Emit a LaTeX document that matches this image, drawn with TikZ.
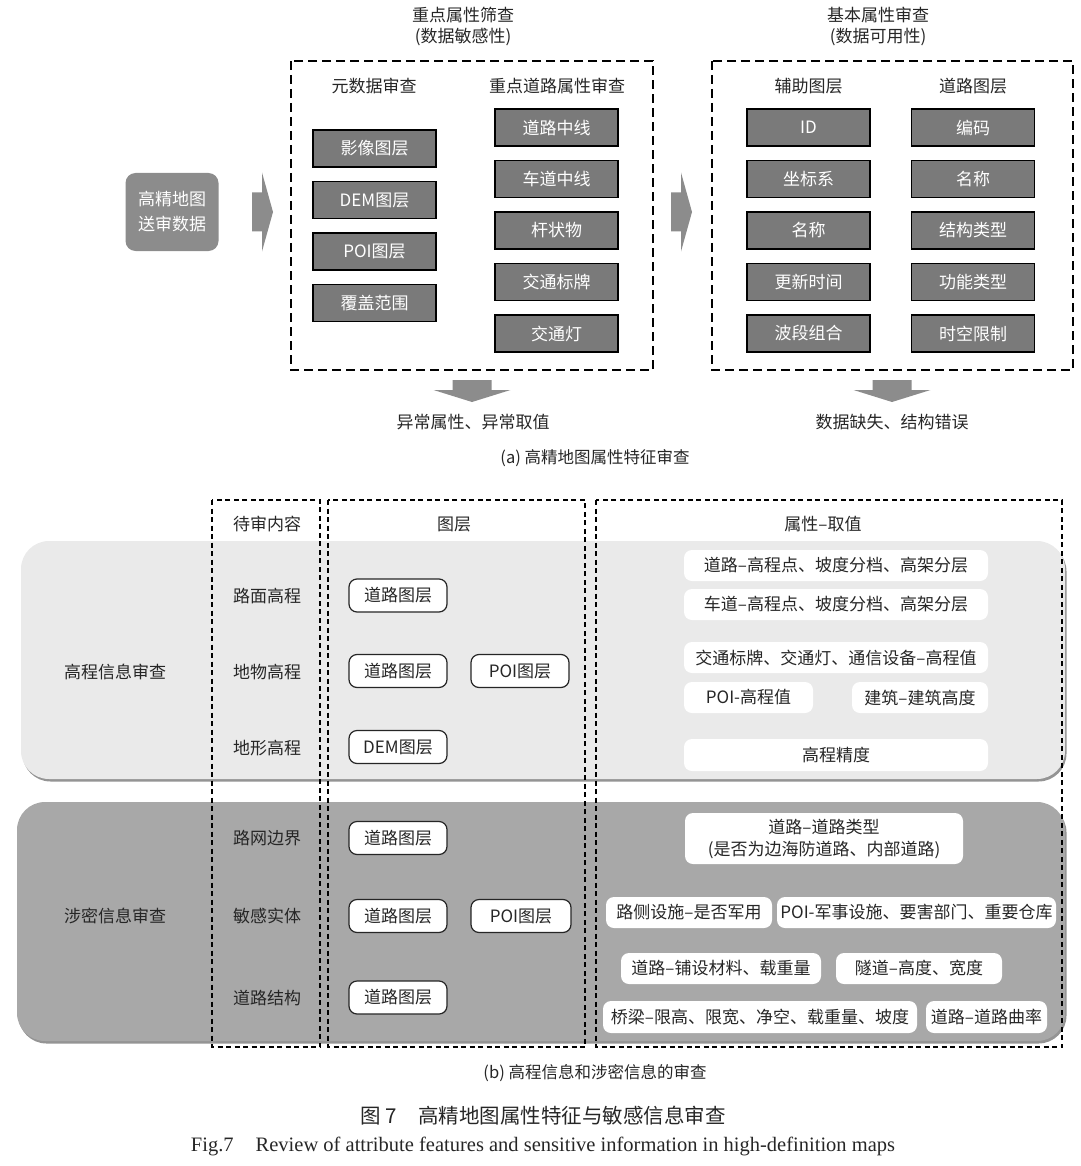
\documentclass[tikz,border=0pt]{standalone}
\usepackage{fontspec}
\setmainfont{Noto Sans CJK SC}
\newfontfamily\latinserif{Liberation Serif}
\usepackage{tikz}
\usetikzlibrary{
  positioning,
  shadows
}
\definecolor{boxgray}{RGB}{122,122,122}
\definecolor{srcgray}{RGB}{140,140,140}
\definecolor{bandlight}{RGB}{234,234,234}
\definecolor{banddark}{RGB}{168,168,168}
\tikzset{
  attrbox/.style={draw=black, line width=1.5pt, fill=boxgray, text=white,
    minimum width=123pt, minimum height=37pt, inner sep=0pt,
    font=\fontsize{17}{20}\selectfont},
  layerbox/.style={draw=black!85, line width=1.2pt, fill=white, rounded corners=8pt,
    minimum width=98pt, minimum height=33pt, inner sep=0pt,
    font=\fontsize{17}{20}\selectfont},
  valbox/.style={fill=white, rounded corners=8pt, minimum height=31pt,
    inner sep=0pt, align=center, font=\fontsize{17}{22}\selectfont},
  lbl/.style={inner sep=0pt, align=center, font=\fontsize{17}{20}\selectfont},
  bigdash/.style={line width=2pt, dash pattern=on 9pt off 5pt},
  smalldash/.style={line width=1.3pt, dash pattern=on 5pt off 3.5pt},
  band/.style={rounded corners=28pt,
    drop shadow={shadow xshift=1.5pt, shadow yshift=-2.5pt, fill=black!60, opacity=0.7}},
  pics/rblock/.style={code={
    \fill[srcgray] (0,-19.5) -- (10,-19.5) -- (10,-39.5) -- (21,0)
      -- (10,39.5) -- (10,19.5) -- (0,19.5) -- cycle;}},
  pics/dblock/.style={code={
    \fill[srcgray] (-19.5,0) -- (-19.5,10) -- (-38.5,10) -- (0,22)
      -- (38.5,10) -- (19.5,10) -- (19.5,0) -- cycle;}},
}

\begin{document}
\begin{tikzpicture}[x=1pt, y=-1pt, every node/.style={text=black!85}, node distance=13pt]
  \useasboundingbox (0,0) rectangle (1080,1166);

  % (a) attribute screening
  \node[lbl] (keyt) at (463,15) {重点属性筛查};
  \node[lbl] (keys) at (463,37) {(数据敏感性)};
  \node[lbl] (baset) at (878,15) {基本属性审查};
  \node[lbl] (bases) at (878,37) {(数据可用性)};

  \node[fill=srcgray, rounded corners=10pt, minimum width=93pt, minimum height=78pt,
        inner sep=0pt, text=white, align=center, font=\fontsize{17}{25}\selectfont]
        (src) at (172,212) {高精地图\\送审数据};
  \pic at (252,212) {rblock};
  \pic at (671,212) {rblock};

  \draw[bigdash] (291,61) rectangle (653,370);
  \node[lbl] (meta) at (374,86) {元数据审查};
  \node[lbl] (keyroad) at (557,86) {重点道路属性审查};
  \node[attrbox] (img) at (374.5,148.5) {影像图层};
  \node[attrbox, below=of img] (dem) {DEM图层};
  \node[attrbox, below=of dem] (poi) {POI图层};
  \node[attrbox, below=of poi] (cover) {覆盖范围};
  \node[attrbox] (cline) at (556.5,127.5) {道路中线};
  \node[attrbox, below=of cline] (lline) {车道中线};
  \node[attrbox, below=of lline] (pole) {杆状物};
  \node[attrbox, below=of pole] (sign) {交通标牌};
  \node[attrbox, below=of sign] (light) {交通灯};

  \draw[bigdash] (712,61) rectangle (1073,370);
  \node[lbl] (aux) at (808.5,86) {辅助图层};
  \node[lbl] (roadl) at (973,86) {道路图层};
  \node[attrbox] (id) at (808.5,127.5) {ID};
  \node[attrbox, below=of id] (crs) {坐标系};
  \node[attrbox, below=of crs] (name) {名称};
  \node[attrbox, below=of name] (upd) {更新时间};
  \node[attrbox, below=of upd] (band) {波段组合};
  \node[attrbox] (code) at (973,127.5) {编码};
  \node[attrbox, below=of code] (rname) {名称};
  \node[attrbox, below=of rname] (stype) {结构类型};
  \node[attrbox, below=of stype] (ftype) {功能类型};
  \node[attrbox, below=of ftype] (limit) {时空限制};

  % results
  \pic at (472,380) {dblock};
  \pic at (892,380) {dblock};
  \node[lbl] (res1) at (473,422) {异常属性、异常取值};
  \node[lbl] (res2) at (892,422) {数据缺失、结构错误};
  \node[lbl, font=\fontsize{16.5}{20}\selectfont] (capa) at (595,458) {(a) 高精地图属性特征审查};

  % (b) elevation and classified information
  \path[band, fill=bandlight] (21,541) rectangle (1065,779);
  \path[band, fill=banddark] (17,802) rectangle (1065,1041);

  \draw[smalldash] (212,500) rectangle (320,1047);
  \draw[smalldash] (328,500) rectangle (585,1047);
  \draw[smalldash] (596,500) rectangle (1062,1047);

  \node[lbl] (hcont) at (267,524) {待审内容};
  \node[lbl] (hlay) at (454,524) {图层};
  \node[lbl] (hval) at (823,524) {属性–取值};

  \node[lbl] (elev) at (115,672) {高程信息审查};
  \node[lbl] (secr) at (115,916) {涉密信息审查};

  \node[lbl] (c1) at (267,596) {路面高程};
  \node[lbl] (c2) at (267,672) {地物高程};
  \node[lbl] (c3) at (267,748) {地形高程};
  \node[lbl] (c4) at (267,838) {路网边界};
  \node[lbl] (c5) at (267,916) {敏感实体};
  \node[lbl] (c6) at (267,998) {道路结构};

  \node[layerbox] (l1) at (398,595.5) {道路图层};
  \node[layerbox] (l2) at (398,671) {道路图层};
  \node[layerbox] (l2p) at (520,671) {POI图层};
  \node[layerbox] (l3) at (398,747) {DEM图层};
  \node[layerbox] (l4) at (398,838) {道路图层};
  \node[layerbox] (l5) at (398,916) {道路图层};
  \node[layerbox, minimum width=100pt] (l5p) at (521,916) {POI图层};
  \node[layerbox] (l6) at (398,997.5) {道路图层};

  \node[valbox, minimum width=304pt] (e1) at (836,565.5) {道路–高程点、坡度分档、高架分层};
  \node[valbox, minimum width=304pt] (e2) at (836,604.5) {车道–高程点、坡度分档、高架分层};
  \node[valbox, minimum width=304pt] (e3) at (836,657.5) {交通标牌、交通灯、通信设备–高程值};
  \node[valbox, minimum width=129pt] (e4) at (748.5,697.5) {POI-高程值};
  \node[valbox, minimum width=136pt] (e5) at (920,697.5) {建筑–建筑高度};
  \node[valbox, minimum width=304pt, minimum height=32pt] (e6) at (836,755) {高程精度};

  \node[valbox, minimum width=278pt, minimum height=51pt] (s1) at (824,838.5)
    {道路–道路类型\\(是否为边海防道路、内部道路)};
  \node[valbox, minimum width=166pt] (s2) at (689,912.5) {路侧设施–是否军用};
  \node[valbox, minimum width=279pt] (s3) at (916.5,912.5) {POI-军事设施、要害部门、重要仓库};
  \node[valbox, minimum width=200pt] (s4) at (721,968.5) {道路–铺设材料、载重量};
  \node[valbox, minimum width=166pt] (s5) at (919,968.5) {隧道–高度、宽度};
  \node[valbox, minimum width=314pt, minimum height=32pt] (s6) at (760,1017) {桥梁–限高、限宽、净空、载重量、坡度};
  \node[valbox, minimum width=121pt, minimum height=32pt] (s7) at (986.5,1017) {道路–道路曲率};

  \node[lbl, font=\fontsize{16.5}{20}\selectfont] (capb) at (595,1073) {(b) 高程信息和涉密信息的审查};

  % figure caption
  \node[lbl, font=\fontsize{20.5}{24}\selectfont] (figcn) at (543,1116)
    {图 7\hspace{22pt}高精地图属性特征与敏感信息审查};
  \node[lbl, font=\latinserif\fontsize{20.5}{24}\selectfont] (figen) at (543,1146)
    {Fig.7\hspace{22pt}Review of attribute features and sensitive information in high-definition maps};
\end{tikzpicture}
\end{document}
